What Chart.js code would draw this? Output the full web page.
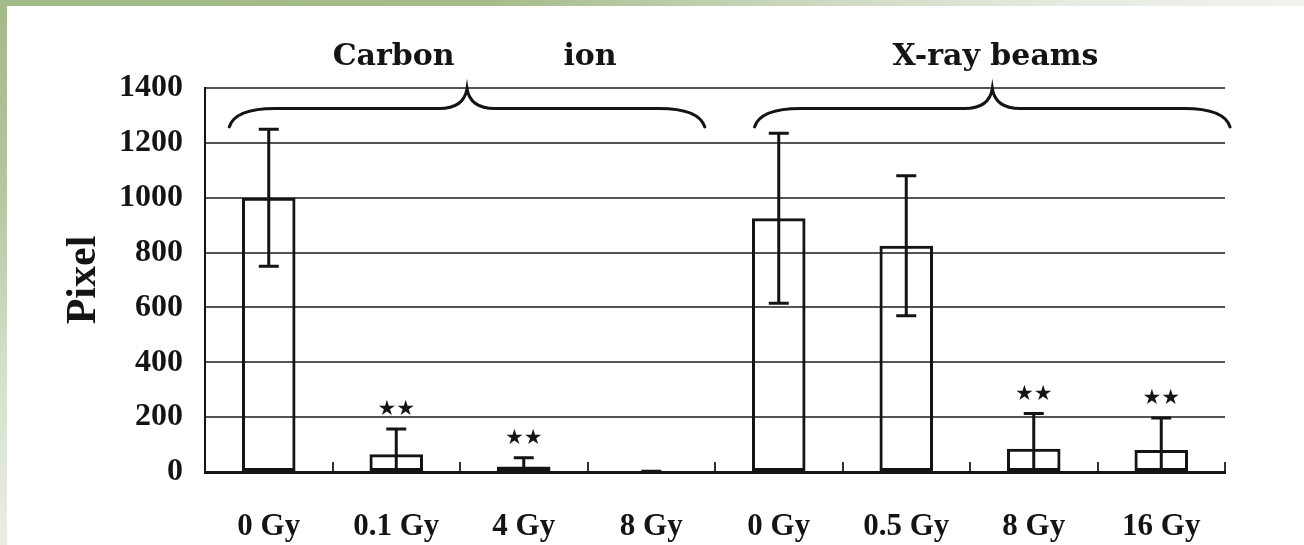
<!DOCTYPE html>
<html>
<head>
<meta charset="utf-8">
<script src="https://cdn.jsdelivr.net/npm/chart.js@4/dist/chart.umd.min.js"></script>
<style>
  html, body { margin: 0; padding: 0; background: #ffffff; }
  #wrap { position: relative; width: 1304px; height: 545px; overflow: hidden; background: #ffffff; }
  #edgeTop { position: absolute; left: 0; top: 0; width: 1304px; height: 6px;
    background: linear-gradient(to right, #a2ba86 0%, #a6bd8b 38%, #c9d6bb 60%, #e6ece1 82%, #f0f2ee 100%); }
  #edgeLeft { position: absolute; left: 0; top: 0; width: 7px; height: 545px;
    background: linear-gradient(to bottom, #a2ba86 0%, #b4c79d 35%, #d3dec6 65%, #e9eee4 100%); }
  canvas { position: absolute; left: 0; top: 0; }
</style>
</head>
<body>
<div id="wrap">
  <div id="edgeTop"></div>
  <div id="edgeLeft"></div>
  <canvas id="chart" width="1304" height="545"></canvas>
</div>
<script>
// Dose groups along the x axis
const categories = ['0 Gy', '0.1 Gy', '4 Gy', '8 Gy', '0 Gy', '0.5 Gy', '8 Gy', '16 Gy'];
// Mean pixel counts and their error (± SD)
const meanPixels = [1000, 65, 20, 0, 925, 825, 85, 80];
const errPixels = [250, 92, 32, 3, 310, 255, 128, 117];
// Significance marks above the error bars
const sigMarks = ['', '★★', '★★', '', '', '', '★★', '★★'];
// Group headings over the braces
const groupTitles = ['Carbon', 'ion', 'X-ray beams'];
// Y axis ticks
const yTicks = [0, 200, 400, 600, 800, 1000, 1200, 1400];

const INK = '#141414';

// Error bars with a top cap (and a bottom cap when it stays above zero)
const errorBars = {
  id: 'errorBars',
  afterDatasetsDraw(chart) {
    const {ctx, scales: {y}} = chart;
    const meta = chart.getDatasetMeta(0);
    ctx.save();
    ctx.strokeStyle = INK;
    ctx.lineWidth = 3;
    ctx.lineCap = 'butt';
    meta.data.forEach((bar, i) => {
      const hi = meanPixels[i] + errPixels[i];
      const lo = Math.max(0, meanPixels[i] - errPixels[i]);
      const x = bar.x;
      const yHi = y.getPixelForValue(hi);
      const yLo = y.getPixelForValue(lo);
      const cap = 10;
      ctx.beginPath();
      ctx.moveTo(x, yLo);
      ctx.lineTo(x, yHi);
      ctx.moveTo(x - cap, yHi);
      ctx.lineTo(x + cap, yHi);
      if (meanPixels[i] - errPixels[i] > 0) {
        ctx.moveTo(x - cap, yLo);
        ctx.lineTo(x + cap, yLo);
      }
      ctx.stroke();
      if (sigMarks[i]) {
        ctx.fillStyle = INK;
        ctx.font = '21px "DejaVu Sans"';
        ctx.textAlign = 'center';
        ctx.textBaseline = 'middle';
        ctx.fillText(sigMarks[i], x, yHi - 19);
      }
    });
    ctx.restore();
  }
};

// Curly braces and the headings of the two beam groups
const groupBraces = {
  id: 'groupBraces',
  afterDraw(chart) {
    const {ctx, scales: {x, y}} = chart;
    const spans = [[-0.31, 3.42], [3.81, 7.54]];
    ctx.save();
    ctx.strokeStyle = INK;
    ctx.lineWidth = 3;
    ctx.lineCap = 'round';
    spans.forEach(([a, b]) => {
      const x0 = x.getPixelForValue(a);
      const x1 = x.getPixelForValue(b);
      const xm = (x0 + x1) / 2;
      const yEnd = y.getPixelForValue(1258);
      const yMid = y.getPixelForValue(1325);
      const yTip = y.getPixelForValue(1398);
      const r = 46;
      ctx.beginPath();
      ctx.moveTo(x0, yEnd);
      ctx.quadraticCurveTo(x0 + 6, yMid, x0 + r, yMid);
      ctx.lineTo(xm - 28, yMid);
      ctx.quadraticCurveTo(xm - 3, yMid, xm, yTip);
      ctx.quadraticCurveTo(xm + 3, yMid, xm + 28, yMid);
      ctx.lineTo(x1 - r, yMid);
      ctx.quadraticCurveTo(x1 - 6, yMid, x1, yEnd);
      ctx.stroke();
    });
    const titlePos = [0.98, 2.52, 5.70];
    ctx.fillStyle = INK;
    ctx.font = 'bold 30px "DejaVu Serif"';
    ctx.textAlign = 'center';
    ctx.textBaseline = 'alphabetic';
    groupTitles.forEach((t, i) => {
      ctx.fillText(t, x.getPixelForValue(titlePos[i]), 65);
    });
    ctx.restore();
  }
};

new Chart(document.getElementById('chart'), {
  type: 'bar',
  data: {
    labels: categories,
    datasets: [{
      data: meanPixels,
      backgroundColor: 'rgba(255,255,255,0)',
      borderColor: INK,
      borderWidth: 3,
      borderSkipped: false,
      categoryPercentage: 1.0,
      barPercentage: 0.42
    }]
  },
  options: {
    responsive: false,
    animation: false,
    events: [],
    layout: { padding: { left: 0, top: 88, right: 79, bottom: 0 } },
    plugins: { legend: { display: false }, tooltip: { enabled: false } },
    scales: {
      x: {
        afterFit(scale) { scale.height = 73; },
        grid: {
          display: true,
          drawOnChartArea: false,
          drawTicks: true,
          tickLength: -10,
          color: '#333',
          lineWidth: 2
        },
        border: { display: true, color: INK, width: 3 },
        ticks: {
          color: INK,
          padding: 46,
          maxRotation: 0,
          autoSkip: false,
          font: { family: '"Liberation Serif"', size: 31, weight: 'bold' }
        }
      },
      y: {
        min: 0,
        max: 1400,
        afterFit(scale) { scale.width = 205; },
        afterBuildTicks(scale) { scale.ticks = yTicks.map(v => ({ value: v })); },
        grid: {
          drawTicks: false,
          color: '#555',
          lineWidth: 2
        },
        border: { display: true, color: INK, width: 2 },
        ticks: {
          color: INK,
          padding: 22,
          callback: (v) => String(v),
          font: { family: '"Liberation Serif"', size: 32, weight: 'bold' }
        },
        title: {
          display: true,
          text: 'Pixel',
          color: INK,
          padding: { top: 59, bottom: 0 },
          font: { family: '"Liberation Serif"', size: 42, weight: 'bold' }
        }
      }
    }
  },
  plugins: [errorBars, groupBraces]
});
</script>
</body>
</html>
